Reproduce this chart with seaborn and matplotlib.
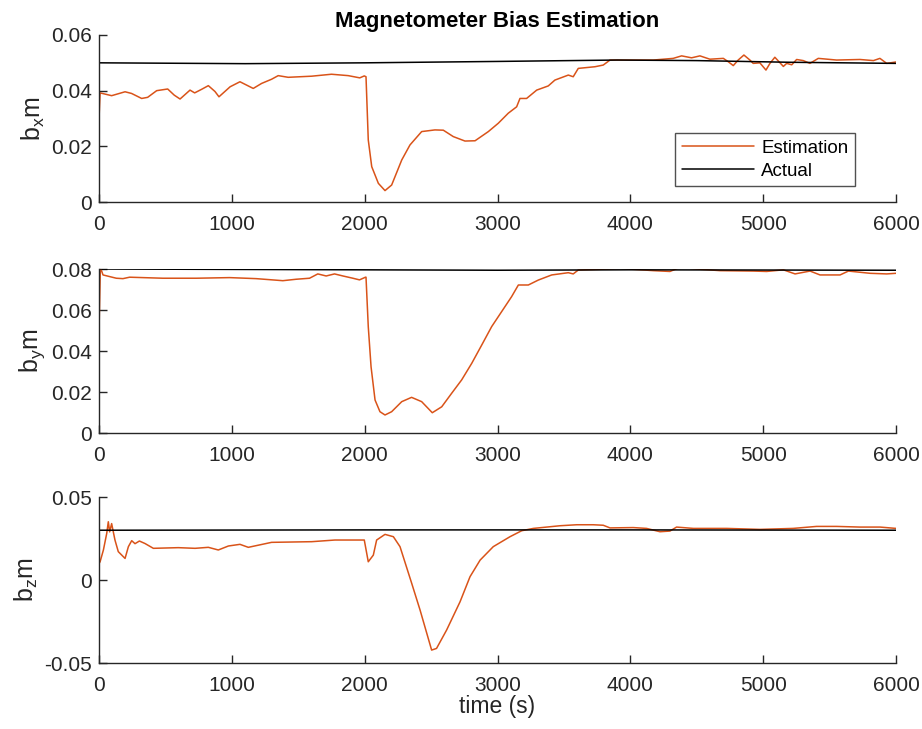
import numpy as np
import pandas as pd
import matplotlib
matplotlib.use("Agg")
import matplotlib.pyplot as plt
import seaborn as sns

# ---------------- data ----------------
bx_t = [0, 8, 95, 196, 245, 321, 366, 434, 517, 566, 610, 685, 720, 773, 823, 873, 903,
        987, 1061, 1111, 1161, 1224, 1299, 1349, 1424, 1601, 1750, 1876, 1963, 1997,
        2010, 2027, 2053, 2103, 2153, 2203, 2279, 2341, 2429, 2529, 2592, 2667, 2755,
        2831, 2931, 3006, 3081, 3144, 3169, 3219, 3295, 3382, 3432, 3533, 3570, 3608,
        3734, 3796, 3847, 3935, 4173, 4323, 4386, 4461, 4524, 4599, 4700, 4737, 4775,
        4812, 4855, 4900, 4925, 4975, 5021, 5051, 5088, 5152, 5177, 5215, 5252, 5302,
        5352, 5415, 5553, 5729, 5830, 5879, 5930, 6000]
bx_est = [0.0300, 0.0392, 0.0382, 0.0396, 0.0390, 0.0372, 0.0376, 0.0400, 0.0406, 0.0384,
          0.0370, 0.0402, 0.0392, 0.0405, 0.0418, 0.0397, 0.0378, 0.0414, 0.0432, 0.0420,
          0.0408, 0.0426, 0.0441, 0.0454, 0.0448, 0.0452, 0.0459, 0.0454, 0.0446, 0.0453,
          0.0450, 0.0223, 0.0127, 0.0067, 0.0041, 0.0061, 0.0151, 0.0205, 0.0253, 0.0259,
          0.0258, 0.0235, 0.0219, 0.0220, 0.0253, 0.0283, 0.0319, 0.0342, 0.0372, 0.0372,
          0.0402, 0.0417, 0.0438, 0.0456, 0.0450, 0.0480, 0.0486, 0.0492, 0.0510, 0.0510,
          0.0510, 0.0516, 0.0525, 0.0518, 0.0525, 0.0513, 0.0516, 0.0504, 0.0490, 0.0510,
          0.0528, 0.0510, 0.0498, 0.0500, 0.0474, 0.0498, 0.0520, 0.0487, 0.0498, 0.0493,
          0.0512, 0.0508, 0.0498, 0.0516, 0.0510, 0.0512, 0.0508, 0.0516, 0.0498, 0.0503]
bx_act_t = [0, 1100, 2000, 3000, 3900, 4500, 5200, 6000]
bx_act = [0.0500, 0.0497, 0.0500, 0.0505, 0.0510, 0.0508, 0.0502, 0.0498]

by_t = [0, 10, 30, 130, 180, 230, 481, 732, 983, 1183, 1384, 1484, 1585, 1647, 1710,
        1773, 1836, 1911, 1961, 2006, 2010, 2027, 2048, 2078, 2115, 2153, 2203, 2279,
        2353, 2429, 2509, 2580, 2655, 2730, 2806, 2881, 2956, 3031, 3106, 3157, 3232,
        3307, 3408, 3533, 3570, 3608, 3834, 3922, 4173, 4298, 4374, 4499, 4675, 4925,
        5026, 5152, 5240, 5353, 5428, 5579, 5642, 5805, 5930, 6000]
by_est = [0.0502, 0.0808, 0.0771, 0.0755, 0.0753, 0.0760, 0.0755, 0.0755, 0.0758, 0.0753,
          0.0743, 0.0750, 0.0755, 0.0776, 0.0766, 0.0776, 0.0766, 0.0755, 0.0747, 0.0760,
          0.0760, 0.0519, 0.0323, 0.0161, 0.0104, 0.0088, 0.0104, 0.0153, 0.0174, 0.0153,
          0.0099, 0.0128, 0.0194, 0.0259, 0.0340, 0.0429, 0.0519, 0.0592, 0.0665, 0.0722,
          0.0722, 0.0746, 0.0771, 0.0782, 0.0776, 0.0795, 0.0800, 0.0803, 0.0792, 0.0788,
          0.0808, 0.0800, 0.0792, 0.0790, 0.0788, 0.0796, 0.0776, 0.0790, 0.0771, 0.0771,
          0.0790, 0.0779, 0.0776, 0.0779]
by_act_t = [0, 2000, 3000, 4000, 6000]
by_act = [0.0800, 0.0796, 0.0794, 0.0796, 0.0794]

bz_t = [0, 8, 33, 58, 70, 80, 95, 105, 120, 145, 170, 196, 221, 246, 271, 304, 346, 409,
        597, 723, 823, 898, 974, 1061, 1124, 1299, 1601, 1776, 1997, 2027, 2065, 2090,
        2153, 2216, 2266, 2354, 2417, 2504, 2541, 2617, 2718, 2793, 2869, 2968, 3094,
        3182, 3270, 3470, 3596, 3721, 3796, 3847, 4022, 4122, 4223, 4298, 4348, 4474,
        4725, 4975, 5226, 5402, 5553, 5729, 5880, 6000]
bz_est = [0.0100, 0.0110, 0.0181, 0.0281, 0.0351, 0.0290, 0.0340, 0.0300, 0.0241, 0.0171,
          0.0151, 0.0130, 0.0201, 0.0237, 0.0219, 0.0235, 0.0220, 0.0191, 0.0195, 0.0191,
          0.0197, 0.0181, 0.0205, 0.0215, 0.0197, 0.0227, 0.0231, 0.0241, 0.0241, 0.0110,
          0.0150, 0.0241, 0.0275, 0.0261, 0.0201, -0.0020, -0.0181, -0.0422, -0.0412,
          -0.0301, -0.0131, 0.0020, 0.0120, 0.0201, 0.0261, 0.0297, 0.0311, 0.0327, 0.0333,
          0.0333, 0.0330, 0.0314, 0.0316, 0.0311, 0.0291, 0.0295, 0.0319, 0.0311, 0.0311,
          0.0305, 0.0311, 0.0323, 0.0323, 0.0319, 0.0319, 0.0311]
bz_act_t = [0, 2000, 4000, 6000]
bz_act = [0.0300, 0.0302, 0.0302, 0.0300]

x_ticks = [0, 1000, 2000, 3000, 4000, 5000, 6000]
y_ticks = [[0, 0.02, 0.04, 0.06], [0, 0.02, 0.04, 0.06, 0.08], [-0.05, 0, 0.05]]
y_ticklabels = [["0", "0.02", "0.04", "0.06"], ["0", "0.02", "0.04", "0.06", "0.08"],
                ["-0.05", "0", "0.05"]]
y_limits = [(0, 0.06), (0, 0.08), (-0.05, 0.05)]
y_labels = [r"b$_{\rm x}$m", r"b$_{\rm y}$m", r"b$_{\rm z}$m"]
series_names = ["Estimation", "Actual"]

# ---------------- style ----------------
sns.set_style("white")
plt.rcParams["font.family"] = ["Liberation Sans", "DejaVu Sans"]
plt.rcParams["mathtext.fontset"] = "custom"
plt.rcParams["mathtext.rm"] = "Liberation Sans"
plt.rcParams["mathtext.it"] = "Liberation Sans"

EST_COLOR = "#D95319"
AX_COLOR = "#262626"

fig = plt.figure(figsize=(9.22, 7.29), dpi=100)
rects = [(0.1074, 0.7229, 0.8644, 0.2291),
         (0.1074, 0.4060, 0.8644, 0.2250),
         (0.1074, 0.0905, 0.8644, 0.2277)]

panels = [(bx_t, bx_est, bx_act_t, bx_act),
          (by_t, by_est, by_act_t, by_act),
          (bz_t, bz_est, bz_act_t, bz_act)]

for i, (rect, (te, ve, ta, va)) in enumerate(zip(rects, panels)):
    ax = fig.add_axes(rect)
    df_est = pd.DataFrame({"t": te, "v": ve, "series": series_names[0]})
    df_act = pd.DataFrame({"t": ta, "v": va, "series": series_names[1]})
    sns.lineplot(data=df_est, x="t", y="v", ax=ax, color=EST_COLOR, lw=1.1,
                 label=series_names[0] if i == 0 else None, sort=False)
    sns.lineplot(data=df_act, x="t", y="v", ax=ax, color="black", lw=1.1,
                 label=series_names[1] if i == 0 else None, sort=False)
    ax.set_xlim(0, 6000)
    ax.set_ylim(*y_limits[i])
    ax.set_xticks(x_ticks)
    ax.set_xticklabels([str(x) for x in x_ticks])
    ax.set_yticks(y_ticks[i])
    ax.set_yticklabels(y_ticklabels[i])
    ax.tick_params(axis="both", which="major", bottom=True, left=True,
                   direction="in", length=6, width=1, colors=AX_COLOR,
                   labelsize=15, labelcolor=AX_COLOR)
    ax.tick_params(axis="x", pad=9)
    ax.tick_params(axis="y", pad=5)
    for s in ["top", "right"]:
        ax.spines[s].set_visible(False)
    for s in ["left", "bottom"]:
        ax.spines[s].set_color(AX_COLOR)
        ax.spines[s].set_linewidth(1.0)
    ax.set_ylabel(y_labels[i], fontsize=18, color=AX_COLOR, labelpad=3)
    if i < 2:
        ax.set_xlabel("")
    else:
        ax.set_xlabel("time (s)", fontsize=16.5, color=AX_COLOR, labelpad=0)
    if i == 0:
        ax.set_title("Magnetometer Bias Estimation", fontsize=16, fontweight="bold",
                     color="black", pad=6)
        leg = ax.legend(loc="upper right", bbox_to_anchor=(0.9486, 0.411),
                        borderaxespad=0, fontsize=13.5, frameon=True, fancybox=False,
                        handlelength=3.85, handletextpad=0.38, borderpad=0.35,
                        labelspacing=0.3)
        leg.get_frame().set_edgecolor(AX_COLOR)
        leg.get_frame().set_linewidth(1.0)
        for txt in leg.get_texts():
            txt.set_color("black")
    else:
        if ax.get_legend() is not None:
            ax.get_legend().remove()

fig.savefig("out.png", dpi=100)
